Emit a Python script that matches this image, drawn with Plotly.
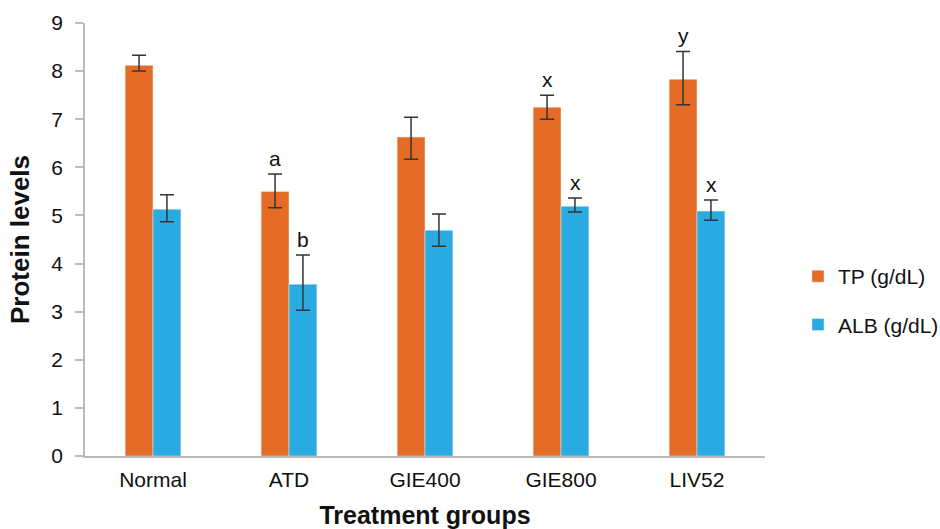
import plotly.graph_objects as go

categories = ["Normal", "ATD", "GIE400", "GIE800", "LIV52"]
tp_values = [8.12, 5.50, 6.63, 7.25, 7.83]
tp_err_plus = [0.21, 0.36, 0.41, 0.25, 0.58]
tp_err_minus = [0.12, 0.34, 0.46, 0.25, 0.53]
alb_values = [5.13, 3.57, 4.69, 5.19, 5.09]
alb_err_plus = [0.30, 0.61, 0.34, 0.17, 0.23]
alb_err_minus = [0.26, 0.54, 0.33, 0.12, 0.19]
tp_letters = ["", "a", "", "x", "y"]
alb_letters = ["", "b", "", "x", "x"]

font = "Liberation Sans, Arial, sans-serif"
err_style = dict(color="#333333", thickness=1.5, width=7)

fig = go.Figure()
fig.add_trace(go.Bar(
    x=categories, y=tp_values, name="TP (g/dL)", marker_color="#E46C26", legendgroup="tp",
    error_y=dict(type="data", symmetric=False, array=tp_err_plus, arrayminus=tp_err_minus, **err_style),
))
fig.add_trace(go.Bar(
    x=categories, y=alb_values, name="ALB (g/dL)", marker_color="#29ABE2", legendgroup="alb",
    error_y=dict(type="data", symmetric=False, array=alb_err_plus, arrayminus=alb_err_minus, **err_style),
))

for i, c in enumerate(categories):
    if tp_letters[i]:
        fig.add_annotation(x=c, y=tp_values[i] + tp_err_plus[i], text=tp_letters[i], showarrow=False,
                           xshift=-14, yanchor="bottom", yshift=2, font=dict(size=21, color="#111111", family=font))
    if alb_letters[i]:
        fig.add_annotation(x=c, y=alb_values[i] + alb_err_plus[i], text=alb_letters[i], showarrow=False,
                           xshift=14, yanchor="bottom", yshift=2, font=dict(size=21, color="#111111", family=font))

fig.update_layout(
    width=940, height=529,
    margin=dict(l=85, r=175, t=23, b=73, autoexpand=False),
    paper_bgcolor="white", plot_bgcolor="white",
    barmode="group", bargap=0.59, bargroupgap=0,
    font=dict(family=font, size=21, color="#111111"),
    showlegend=True,
    legend=dict(x=1.0485, y=0.359, xanchor="left", yanchor="middle", tracegroupgap=18,
                traceorder="grouped",
                font=dict(size=21, family=font), bgcolor="rgba(0,0,0,0)"),
    xaxis=dict(
        showline=True, linecolor="#BBBBBB", linewidth=1.5, ticks="", showgrid=False,
        tickfont=dict(size=21, family=font), ticklabelstandoff=4, automargin=False,
        title=dict(text="<b>Treatment groups</b>", font=dict(size=25, family=font), standoff=18),
    ),
    yaxis=dict(
        range=[0, 9], dtick=1, showline=True, linecolor="#BBBBBB", linewidth=1.5,
        ticks="outside", ticklen=8, tickcolor="#BBBBBB", tickwidth=1.5, showgrid=False,
        zeroline=False, tickfont=dict(size=21, family=font), ticklabelstandoff=8, automargin=False,
        title=dict(text="<b>Protein levels</b>", font=dict(size=26, family=font), standoff=14),
    ),
)

fig.write_html("out.html", config={"displayModeBar": False},
               post_script="document.body.style.margin='0';document.body.style.overflow='hidden';")
